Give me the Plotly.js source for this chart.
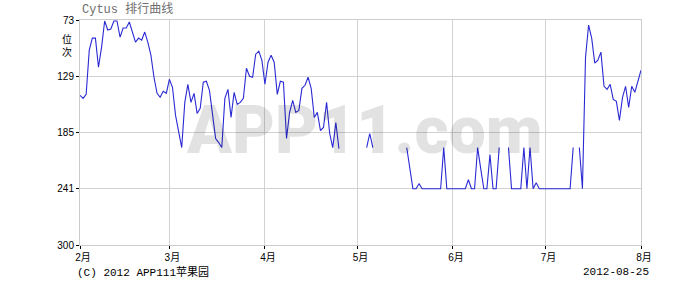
<!DOCTYPE html>
<html>
<head>
<meta charset="utf-8">
<script src="https://cdn.plot.ly/plotly-3.0.1.min.js"></script>
<style>html,body{margin:0;padding:0;background:#fff;}</style>
</head>
<body>
<div id="chart" style="width:685px;height:298px;"></div>
<script>
// Daily rank values (lower = better), null = not ranked
const year = 2012;
const rankFeb = [148,151,147,103,91,91,120,100,74,83,82,74,74,90,81,81,75,85,95,91,93,85,95,108,130,146,150,144,146];
const rankMar = [132,140,168,186,200,155,137,155,146,166,161,135,134,143,168,191,195,200,151,142,170,145,157,155,151,121,129,130,107,104,113];
const rankApr = [137,115,108,115,147,134,135,191,165,153,165,163,141,138,130,141,170,165,183,180,155,186,200,175,201,null,null,null,null,null];
const rankMay = [null,null,null,200,186,200,null,null,null,null,null,null,null,null,null,null,200,223,241,241,236,241,241,241,241,241,241,241,200,241,241];
const rankJun = [241,241,241,241,241,232,241,241,200,221,241,241,207,241,241,200,null,null,200,241,241,241,241,200,241,200,241,235,241,241];
const rankJul = [241,241,241,241,241,241,241,241,241,200,null,200,241,110,78,91,116,113,105,139,142,137,152,154,173,150,139,160,139,145,134];
const rankAug = [123];

const monthNums = ['02','03','04','05','06','07','08'];
const monthRanks = [rankFeb, rankMar, rankApr, rankMay, rankJun, rankJul, rankAug];
const monthLabels = ['2月','3月','4月','5月','6月','7月','8月'];
const yTickVals = [73,129,185,241,297];
const yTickText = ['73','129','185','241','300'];

const titleText = 'Cytus 排行曲线';
const yLabel = '位<br>次';
const copyright = '(C) 2012 APP111苹果园';
const dateStamp = '2012-08-25';
const watermark = 'APP11.com';

const xs = [], ys = [];
monthRanks.forEach((arr, i) => {
  arr.forEach((v, j) => {
    const dd = String(j + 1).padStart(2, '0');
    xs.push(year + '-' + monthNums[i] + '-' + dd);
    ys.push(v);
  });
});
const monthStarts = monthNums.map(m => year + '-' + m + '-01');

const monoCJK = '"Liberation Mono", "Noto Sans CJK SC", monospace';
const sansCJK = '"Liberation Sans", "Noto Sans CJK SC", sans-serif';

const trace = {
  x: xs, y: ys, type: 'scatter', mode: 'lines',
  line: {color: '#2a2ad4', width: 1.1},
  connectgaps: false, hoverinfo: 'x+y'
};

const layout = {
  width: 685, height: 298,
  margin: {l: 80, r: 44, t: 20, b: 53},
  paper_bgcolor: '#ffffff', plot_bgcolor: '#ffffff',
  showlegend: false,
  title: {
    text: titleText, x: 82/685, xanchor: 'left', xref: 'container',
    y: 1 - 9/298, yanchor: 'middle', yref: 'container',
    font: {family: monoCJK, size: 12, color: '#6e6e6e'}
  },
  xaxis: {
    type: 'date', range: [monthStarts[0], monthStarts[6]],
    tickmode: 'array', tickvals: monthStarts, ticktext: monthLabels,
    showgrid: true, gridcolor: '#d2d2d2', gridwidth: 1,
    showline: true, linecolor: '#cccccc', linewidth: 1, mirror: true,
    ticks: 'outside', ticklen: 3, tickcolor: '#000', tickwidth: 1,
    ticklabelshift: 3,
    tickfont: {family: sansCJK, size: 10, color: '#000'},
    zeroline: false, fixedrange: true
  },
  yaxis: {
    range: [297, 73],
    tickmode: 'array', tickvals: yTickVals, ticktext: yTickText,
    showgrid: true, gridcolor: '#d2d2d2', gridwidth: 1,
    showline: true, linecolor: '#cccccc', linewidth: 1, mirror: true,
    ticks: 'outside', ticklen: 3, tickcolor: '#000', tickwidth: 1,
    tickfont: {family: sansCJK, size: 10, color: '#000'},
    zeroline: false, fixedrange: true
  },
  annotations: [
    {text: watermark, xref: 'paper', yref: 'paper', x: (364-80)/561, y: (245-130)/225,
     xanchor: 'center', yanchor: 'middle', showarrow: false,
     font: {family: 'Roboto, "Liberation Sans", sans-serif', size: 66, color: 'rgba(0,0,0,0.115)', weight: 900}},
    {text: yLabel, xref: 'paper', yref: 'paper', x: -13/561, y: (245-45)/225,
     xanchor: 'center', yanchor: 'middle', showarrow: false,
     font: {family: sansCJK, size: 10, color: '#000'}},
    {text: copyright, xref: 'paper', yref: 'paper', x: -5/561, y: (245-272)/225,
     xanchor: 'left', yanchor: 'middle', showarrow: false,
     font: {family: monoCJK, size: 11, color: '#000'}},
    {text: dateStamp, xref: 'paper', yref: 'paper', x: (651-80)/561, y: (245-272)/225,
     xanchor: 'right', yanchor: 'middle', showarrow: false,
     font: {family: monoCJK, size: 11, color: '#000'}}
  ]
};

Plotly.newPlot('chart', [trace], layout, {displayModeBar: false, staticPlot: true});
</script>
</body>
</html>
